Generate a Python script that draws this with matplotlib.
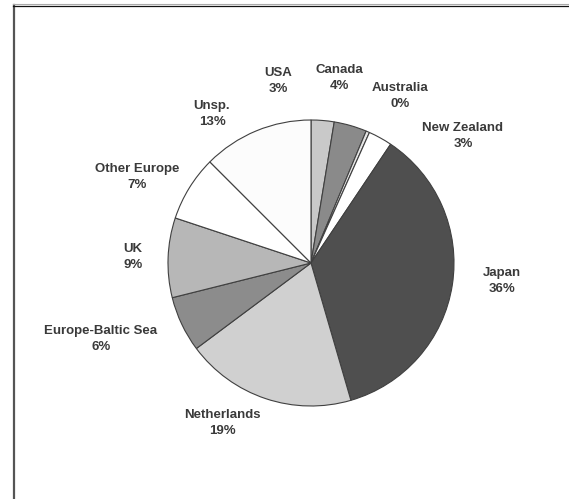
import matplotlib
matplotlib.use("Agg")
import matplotlib.pyplot as plt
from matplotlib.lines import Line2D

W, H = 569, 499
CX, CY, R = 311, 263, 143

countries = ['USA', 'Canada', 'Australia', 'New Zealand', 'Japan',
             'Netherlands', 'Europe-Baltic Sea', 'UK', 'Other Europe', 'Unsp.']
shares = [2.6, 3.7, 0.4, 2.7, 36.1, 19.3, 6.3, 9.0, 7.4, 12.5]
pct_labels = ['3%', '4%', '0%', '3%', '36%', '19%', '6%', '9%', '7%', '13%']
colors = ['#c9c9c9', '#8a8a8a', '#e6e6e6', '#ffffff', '#4f4f4f',
          '#d0d0d0', '#8c8c8c', '#b7b7b7', '#ffffff', '#fcfcfc']

# label centres in pixels (x, y from top)
label_pos = [(278, 81), (339, 78), (400, 96), (463, 136), (502, 281),
             (222, 423), (101, 339), (133, 257), (137, 177), (212, 114)]

fig = plt.figure(figsize=(W / 100, H / 100), dpi=100)
fig.patch.set_facecolor('white')
ax = fig.add_axes([0, 0, 1, 1])

ax.pie(shares, colors=colors, startangle=90, counterclock=False,
       radius=1.0, wedgeprops=dict(edgecolor='#404040', linewidth=0.8))
ax.set_xlim(-CX / R, (W - CX) / R)
ax.set_ylim(-(H - CY) / R, CY / R)
ax.set_aspect('auto')
ax.axis('off')

for name, pct, (px, py) in zip(countries, pct_labels, label_pos):
    fig.text(px / W, 1 - py / H, name + '\n' + pct, ha='center', va='center',
             fontsize=9.5, fontweight='bold', color='#3a3a3a',
             family=['Liberation Sans', 'DejaVu Sans'], linespacing=1.5)

# frame lines (left and top only)
fig.add_artist(Line2D([13.5 / W, 13.5 / W], [0, 1 - 5 / H], transform=fig.transFigure,
                      color='#555555', linewidth=1.6))
fig.add_artist(Line2D([13 / W, 1], [1 - 4 / H, 1 - 4 / H], transform=fig.transFigure,
                      color='#aaaaaa', linewidth=0.8))
fig.add_artist(Line2D([13 / W, 1], [1 - 5.5 / H, 1 - 5.5 / H], transform=fig.transFigure,
                      color='#111111', linewidth=0.9))

fig.savefig('out.png', dpi=100)
